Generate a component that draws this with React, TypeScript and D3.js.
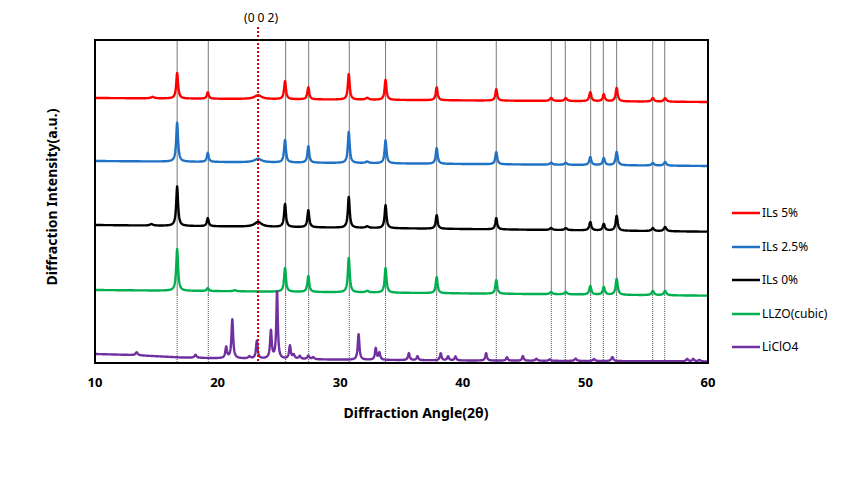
import React from "react";
import * as d3 from "d3";

// ---- data ----
const angleTicks = [10, 20, 30, 40, 50, 60];
const refLines = [16.7, 19.24, 25.55, 27.43, 30.74, 33.7, 37.87, 42.73, 47.22, 48.36, 50.43, 51.46, 52.55, 55.49, 56.47];
const plane002 = 23.3;

// background (angle, intensity) and peaks (angle, height, hwhm)
const ils5Background: [number, number][] = [[10, 265], [60, 261]];
const ils5Peaks: [number, number, number][] = [
  [14.7, 1.5, 0.15], [16.7, 25.5, 0.09], [19.2, 6.5, 0.09], [23.3, 3.8, 0.35], [25.5, 18, 0.09],
  [27.4, 12, 0.09], [30.7, 25.5, 0.09], [32.2, 1.8, 0.15], [33.7, 20, 0.09], [37.87, 13, 0.09],
  [42.73, 11.5, 0.09], [47.2, 3, 0.12], [48.4, 3, 0.12], [50.4, 9, 0.1], [51.5, 7, 0.1],
  [52.55, 13.4, 0.1], [55.5, 3.5, 0.12], [56.5, 3.5, 0.12],
];

const ils25Background: [number, number][] = [[10, 202], [60, 197]];
const ils25Peaks: [number, number, number][] = [
  [16.7, 39, 0.09], [19.2, 9, 0.09], [23.3, 3.5, 0.35], [25.5, 22.5, 0.09], [27.4, 16.5, 0.09],
  [30.7, 31, 0.09], [32.2, 1.5, 0.15], [33.7, 23, 0.09], [37.87, 15.8, 0.09], [42.73, 12.3, 0.09],
  [47.2, 2, 0.12], [48.4, 2, 0.12], [50.4, 8, 0.1], [51.5, 7, 0.1], [52.55, 13.3, 0.1],
  [55.5, 2.5, 0.12], [56.5, 3.6, 0.12],
];

const ils0Background: [number, number][] = [[10, 138], [60, 131.3]];
const ils0Peaks: [number, number, number][] = [
  [14.6, 1.5, 0.15], [16.7, 39.5, 0.09], [19.2, 8, 0.09], [23.3, 4.8, 0.35], [25.5, 23, 0.09],
  [27.4, 17, 0.09], [30.7, 30.8, 0.09], [32.2, 1.5, 0.15], [33.7, 23, 0.09], [37.87, 13.7, 0.09],
  [42.73, 11.4, 0.09], [47.2, 2, 0.12], [48.4, 2, 0.12], [50.4, 8.4, 0.1], [51.5, 6.6, 0.1],
  [52.55, 14.7, 0.1], [55.5, 3, 0.12], [56.5, 4.2, 0.12],
];

const llzoBackground: [number, number][] = [[10, 73], [60, 67.3]];
const llzoPeaks: [number, number, number][] = [
  [16.7, 41.8, 0.09], [19.2, 3, 0.09], [21.4, 1, 0.15], [25.5, 23.8, 0.09], [27.4, 16, 0.09],
  [30.7, 34.4, 0.09], [32.2, 1.5, 0.15], [33.7, 24.7, 0.09], [37.87, 16.2, 0.09], [42.73, 13.7, 0.09],
  [47.2, 2.2, 0.12], [48.4, 2.4, 0.12], [50.4, 8.6, 0.1], [51.5, 7.7, 0.1], [52.55, 15.9, 0.1],
  [55.5, 4.2, 0.12], [56.5, 4.3, 0.12],
];

const liclo4Background: [number, number][] = [
  [10, 9], [13, 8], [17, 5.5], [20, 4.7], [25, 4], [30, 3.3], [40, 2.5], [50, 2], [60, 1.5],
];
const liclo4Peaks: [number, number, number][] = [
  [13.4, 3, 0.1], [18.2, 3, 0.1], [20.7, 11, 0.08], [21.2, 39, 0.08], [22.6, 2, 0.1],
  [23.2, 17.6, 0.08], [24.35, 28, 0.08], [24.85, 68, 0.07], [25.9, 13, 0.08], [26.2, 4, 0.1],
  [26.7, 3, 0.1], [27.4, 3.5, 0.1], [27.8, 2, 0.1], [31.5, 25.5, 0.08], [32.9, 11.5, 0.08],
  [33.2, 7, 0.08], [35.6, 7, 0.08], [36.3, 4, 0.08], [38.2, 7, 0.08], [38.8, 4, 0.08],
  [39.4, 4, 0.08], [41.9, 7.4, 0.08], [43.6, 3.5, 0.08], [44.9, 4.6, 0.08], [46.0, 2, 0.1],
  [47.1, 1.5, 0.1], [49.2, 2.3, 0.1], [50.7, 2, 0.1], [52.2, 4, 0.1], [58.3, 2.4, 0.1],
  [58.8, 2.4, 0.1], [59.3, 1.5, 0.1],
];

const seriesNames = ["ILs 5%", "ILs 2.5%", "ILs 0%", "LLZO(cubic)", "LiClO4"];
const seriesColors = ["#FF0000", "#1F72C4", "#000000", "#00B050", "#7030A0"];

const series = [
  { name: seriesNames[0], color: seriesColors[0], bg: ils5Background, peaks: ils5Peaks },
  { name: seriesNames[1], color: seriesColors[1], bg: ils25Background, peaks: ils25Peaks },
  { name: seriesNames[2], color: seriesColors[2], bg: ils0Background, peaks: ils0Peaks },
  { name: seriesNames[3], color: seriesColors[3], bg: llzoBackground, peaks: llzoPeaks },
  { name: seriesNames[4], color: seriesColors[4], bg: liclo4Background, peaks: liclo4Peaks },
];

const W = 866;
const H = 477;
const x = d3.scaleLinear().domain([10, 60]).range([95, 708]);
const y = d3.scaleLinear().domain([0, 323]).range([363, 40]);
const angles = d3.range(10, 60.0001, 0.02);

function profile(bg: [number, number][], peaks: [number, number, number][]) {
  const bgScale = d3.scaleLinear().domain(bg.map((d) => d[0])).range(bg.map((d) => d[1]));
  return angles.map((a) => {
    let v = bgScale(a);
    for (const [c, h, w] of peaks) {
      const t = (a - c) / w;
      v += h / (1 + t * t);
    }
    return [a, v] as [number, number];
  });
}

const line = d3
  .line<[number, number]>()
  .x((d) => x(d[0]))
  .y((d) => y(d[1]));

const font = "'Noto Sans', 'DejaVu Sans', sans-serif";

export default function App() {
  const splitVal = 68;
  const legendY = [213, 247, 280, 314, 347];
  return (
    <svg
      width={W}
      height={H}
      style={{ position: "absolute", left: 0, top: 0, background: "#fff" }}
      fontFamily={font}
    >
      {/* reference lines */}
      {refLines.map((a) => (
        <g key={a}>
          <line x1={x(a)} x2={x(a)} y1={y(323)} y2={y(splitVal)} stroke="#555" strokeWidth={0.8} />
          <line x1={x(a)} x2={x(a)} y1={y(splitVal)} y2={y(0)} stroke="#222" strokeWidth={0.8} strokeDasharray="1,1" />
        </g>
      ))}
      {/* series */}
      {series.map((s) => (
        <path
          key={s.name}
          d={line(profile(s.bg, s.peaks)) || ""}
          fill="none"
          stroke={s.color}
          strokeWidth={2.4}
          strokeLinejoin="round"
        />
      ))}
      {/* (0 0 2) marker */}
      <line
        x1={x(plane002)}
        x2={x(plane002)}
        y1={27}
        y2={y(0)}
        stroke="#D00000"
        strokeWidth={2}
        strokeDasharray="2,2"
      />
      <text x={x(plane002) + 3} y={22} fontSize={12} textAnchor="middle" fill="#000">
        (0 0 2)
      </text>
      {/* frame */}
      <rect x={95} y={40} width={613} height={323} fill="none" stroke="#000" strokeWidth={2} />
      {/* x tick labels */}
      {angleTicks.map((t) => (
        <text key={t} x={x(t)} y={387} fontSize={13} fontWeight="bold" textAnchor="middle">
          {t}
        </text>
      ))}
      <text x={416} y={418} fontSize={14} fontWeight="bold" textAnchor="middle">
        Diffraction Angle(2θ)
      </text>
      <text
        transform="translate(57,197) rotate(-90)"
        fontSize={14}
        fontWeight="bold"
        textAnchor="middle"
      >
        Diffraction Intensity(a.u.)
      </text>
      {/* legend */}
      {series.map((s, i) => (
        <g key={s.name}>
          <line x1={732} x2={760} y1={legendY[i]} y2={legendY[i]} stroke={s.color} strokeWidth={2.5} />
          <text x={762} y={legendY[i] + 4} fontSize={12} fill="#000">
            {s.name}
          </text>
        </g>
      ))}
    </svg>
  );
}
